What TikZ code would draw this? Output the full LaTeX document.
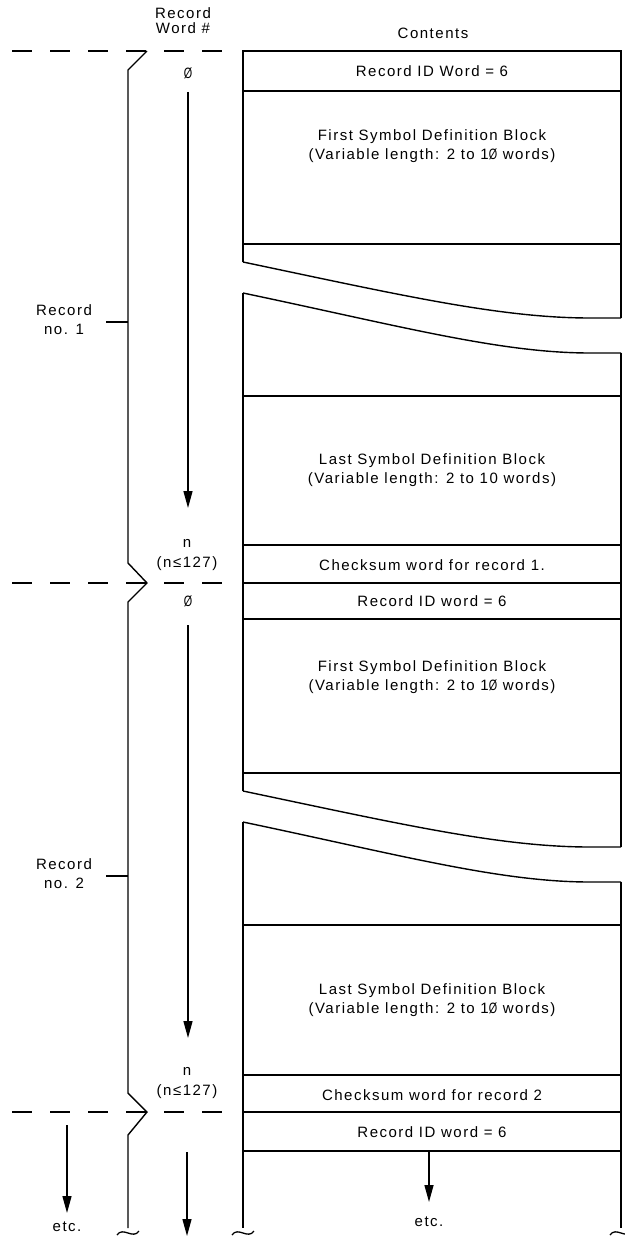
\documentclass[tikz,border=0pt]{standalone}
\usepackage{fontspec}
\setmainfont[LetterSpace=10]{Liberation Sans}
\usetikzlibrary{arrows.meta}
\newcommand{\slz}{\scalebox{0.72}[1]{Ø}}

\begin{document}
\begin{tikzpicture}[x=1pt,y=-1pt,line width=1.4pt,
  txt/.style={font=\fontsize{15}{19}\selectfont,align=center,inner sep=0pt},
  brk/.style={line width=1.6pt,dash pattern=on 20pt off 18pt},
  arr/.style={-{Triangle[length=17pt,width=9pt]}}]
\useasboundingbox (0,0) rectangle (624,1236);

% column headings
\node[txt,font=\fontsize{15}{15}\selectfont] (hword) at (183,21) {Record\\Word \#};
\node[txt] (hcont) at (433,33) {Contents};

% record boundaries
\foreach \y in {51,583,1112}
  \draw[brk] (12,\y) -- (222,\y);

% record brackets
\draw (147,51) -- (128,70) -- (128,563) -- (147,583) -- (128,602) -- (128,1093) -- (147,1112) -- (128,1135) -- (128,1228);
\draw (106,322) -- (128,322);
\draw (106,876) -- (128,876);
\node[txt] (rec1) at (64,320) {Record\\no. 1};
\node[txt] (rec2) at (64,874) {Record\\no. 2};

% contents column
\foreach \top/\id/\brk/\low/\chk/\nxt in {51/91/244/396/545/583, 583/619/773/925/1075/1112} {
  \draw (243,\brk+18) -- (243,\top) -- (621,\top) -- (621,\brk+74);
  \draw (243,\id) -- (621,\id);
  \draw (243,\brk) -- (621,\brk);
  \draw (243,\brk+18) .. controls (400,\brk+51) and (500,\brk+74) .. (590,\brk+74) -- (621,\brk+74);
  \draw (243,\brk+49) .. controls (400,\brk+82) and (500,\brk+109) .. (590,\brk+109) -- (621,\brk+109);
  \draw (243,\brk+49) -- (243,\nxt);
  \draw (621,\brk+109) -- (621,\nxt);
  \draw (243,\low) -- (621,\low);
  \draw (243,\chk) -- (621,\chk);
  \draw (243,\nxt) -- (621,\nxt);
}
\draw (243,1151) -- (621,1151);
\draw (243,1112) -- (243,1228);
\draw (621,1112) -- (621,1228);
\foreach \x in {128,243,621}
  \draw[line width=1.3pt] (\x-11,1235) .. controls (\x-5,1226) and (\x+5,1240) .. (\x+11,1231);

% texts of record 1
\node[txt] (id1) at (432,71) {Record ID Word = 6};
\node[txt] (first1) at (432,146.5) {First Symbol Definition Block\\(Variable length: 2 to 1\slz\ words)};
\node[txt] (last1) at (432,470.5) {Last Symbol Definition Block\\(Variable length: 2 to 10 words)};
\node[txt] (chk1) at (432,565) {Checksum word for record 1.};
\node[txt] (w1a) at (188,73) {\slz};
\node[txt,font=\fontsize{15}{20}\selectfont] (w1n) at (187,555) {n\\(n≤127)};

% texts of record 2
\node[txt] (id2) at (432,601) {Record ID word = 6};
\node[txt] (first2) at (432,677.5) {First Symbol Definition Block\\(Variable length: 2 to 1\slz\ words)};
\node[txt] (last2) at (432,1000) {Last Symbol Definition Block\\(Variable length: 2 to 1\slz\ words)};
\node[txt] (chk2) at (432,1095) {Checksum word for record 2};
\node[txt] (w2a) at (188,601) {\slz};
\node[txt,font=\fontsize{15}{20}\selectfont] (w2n) at (187,1083) {n\\(n≤127)};

% record 3
\node[txt] (id3) at (432,1132) {Record ID word = 6};
\node[txt] (etc1) at (67,1227) {etc.};
\node[txt] (etc2) at (429,1222) {etc.};

% word arrows
\coordinate (a1s) at (188,92);
\coordinate (a1e) at (188,508);
\coordinate (a2s) at (188,625);
\coordinate (a2e) at (188,1038);
\coordinate (a3s) at (187,1152);
\coordinate (a3e) at (187,1236);
\coordinate (a4s) at (67,1125);
\coordinate (a4e) at (67,1213);
\coordinate (a5s) at (429,1151);
\coordinate (a5e) at (429,1202);
\foreach \s/\e in {a1s/a1e,a2s/a2e,a3s/a3e,a4s/a4e,a5s/a5e}
  \draw[arr] (\s) -- (\e);
\end{tikzpicture}
\end{document}
